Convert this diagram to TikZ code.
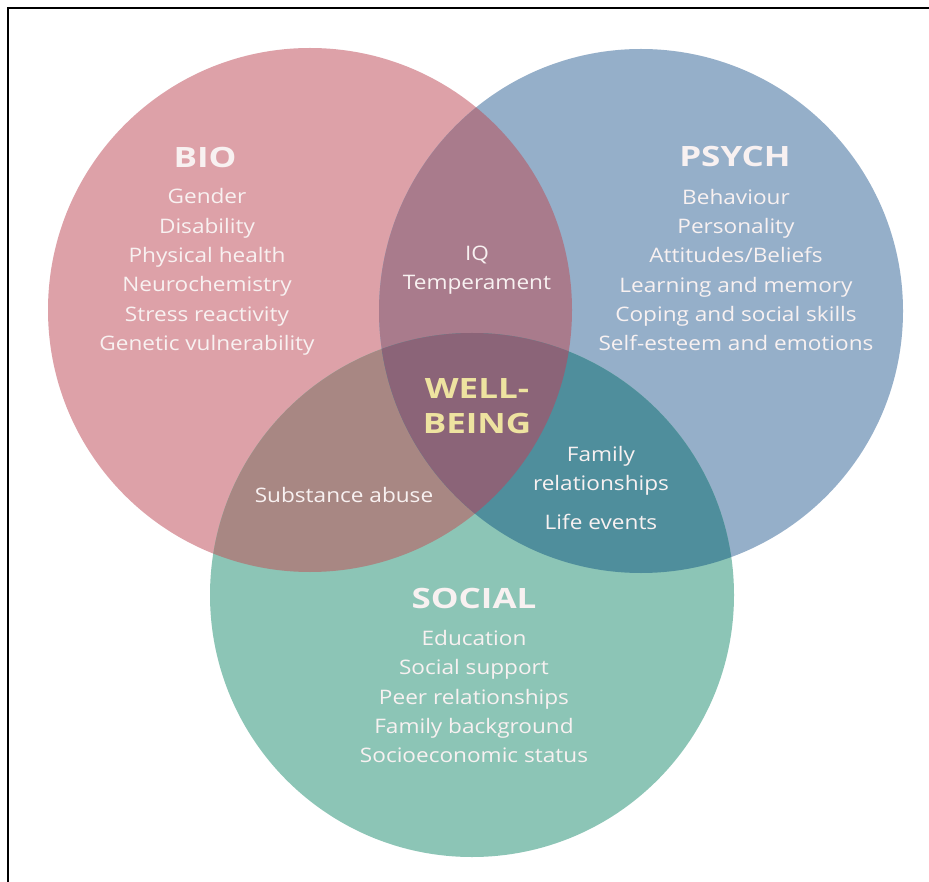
\documentclass[tikz,border=0pt]{standalone}
\usepackage{fontspec}
\setmainfont{Open Sans}
\newfontfamily\itemfont[FakeStretch=1.13]{Open Sans}
\newfontfamily\headfont[FakeStretch=1.25]{Open Sans}
\definecolor{pinkc}{HTML}{DDA1A8}
\definecolor{bluec}{HTML}{95AFC9}
\definecolor{greenc}{HTML}{8CC5B6}
\definecolor{pbc}{HTML}{A97B8C}
\definecolor{pgc}{HTML}{A88783}
\definecolor{bgc}{HTML}{4F8E9C}
\definecolor{ctrc}{HTML}{8B6478}
\definecolor{txtc}{HTML}{F8F1F1}
\definecolor{wellc}{HTML}{EEE3A0}
\tikzset{
  head/.style={text=txtc, font=\headfont\fontsize{28}{33}\selectfont\bfseries, inner sep=0pt},
  items/.style={text=txtc, font=\itemfont\fontsize{20}{29.3}\selectfont, align=center, inner sep=0pt},
  well/.style={text=wellc, font=\headfont\fontsize{28}{35}\selectfont\bfseries, align=center, inner sep=0pt}
}
\begin{document}
\begin{tikzpicture}[x=1pt,y=-1pt]
\useasboundingbox (0,0) rectangle (929,882);
\fill[white] (0,0) rectangle (929,882);
\coordinate (P) at (310,310);
\coordinate (B) at (641,311);
\coordinate (G) at (472,595);
\def\R{262}
\fill[pinkc] (P) circle (\R);
\fill[bluec] (B) circle (\R);
\fill[greenc] (G) circle (\R);
\begin{scope}
  \clip (P) circle (\R);
  \fill[pbc] (B) circle (\R);
  \fill[pgc] (G) circle (\R);
\end{scope}
\begin{scope}
  \clip (B) circle (\R);
  \fill[bgc] (G) circle (\R);
  \clip (P) circle (\R);
  \fill[ctrc] (G) circle (\R);
\end{scope}
% frame (top and left edges only)
\coordinate (TL) at (8,8);
\coordinate (TR) at (929,8);
\coordinate (BL) at (8,882);
\draw[line width=2pt, black] (TR) -- (TL) -- (BL);
% texts
\node[head] (bio) at (205,157) {BIO};
\node[items] (bioitems) at (207,272) {Gender\\Disability\\Physical health\\Neurochemistry\\Stress reactivity\\Genetic vulnerability};
\node[head] (psych) at (735,157) {PSYCH};
\node[items] (psychitems) at (736,270) {Behaviour\\Personality\\Attitudes/Beliefs\\Learning and memory\\Coping and social skills\\Self-esteem and emotions};
\node[items] (iq) at (477,270) {IQ\\Temperament};
\node[well] (wb) at (477,406) {WELL-\\BEING};
\node[items] (subst) at (344,495) {Substance abuse};
\node[items] (fam) at (601,471) {Family\\relationships};
\node[items] (life) at (601,522) {Life events};
\node[head] (social) at (474,598) {SOCIAL};
\node[items] (socitems) at (474,696.5) {Education\\Social support\\Peer relationships\\Family background\\Socioeconomic status};
\end{tikzpicture}
\end{document}
